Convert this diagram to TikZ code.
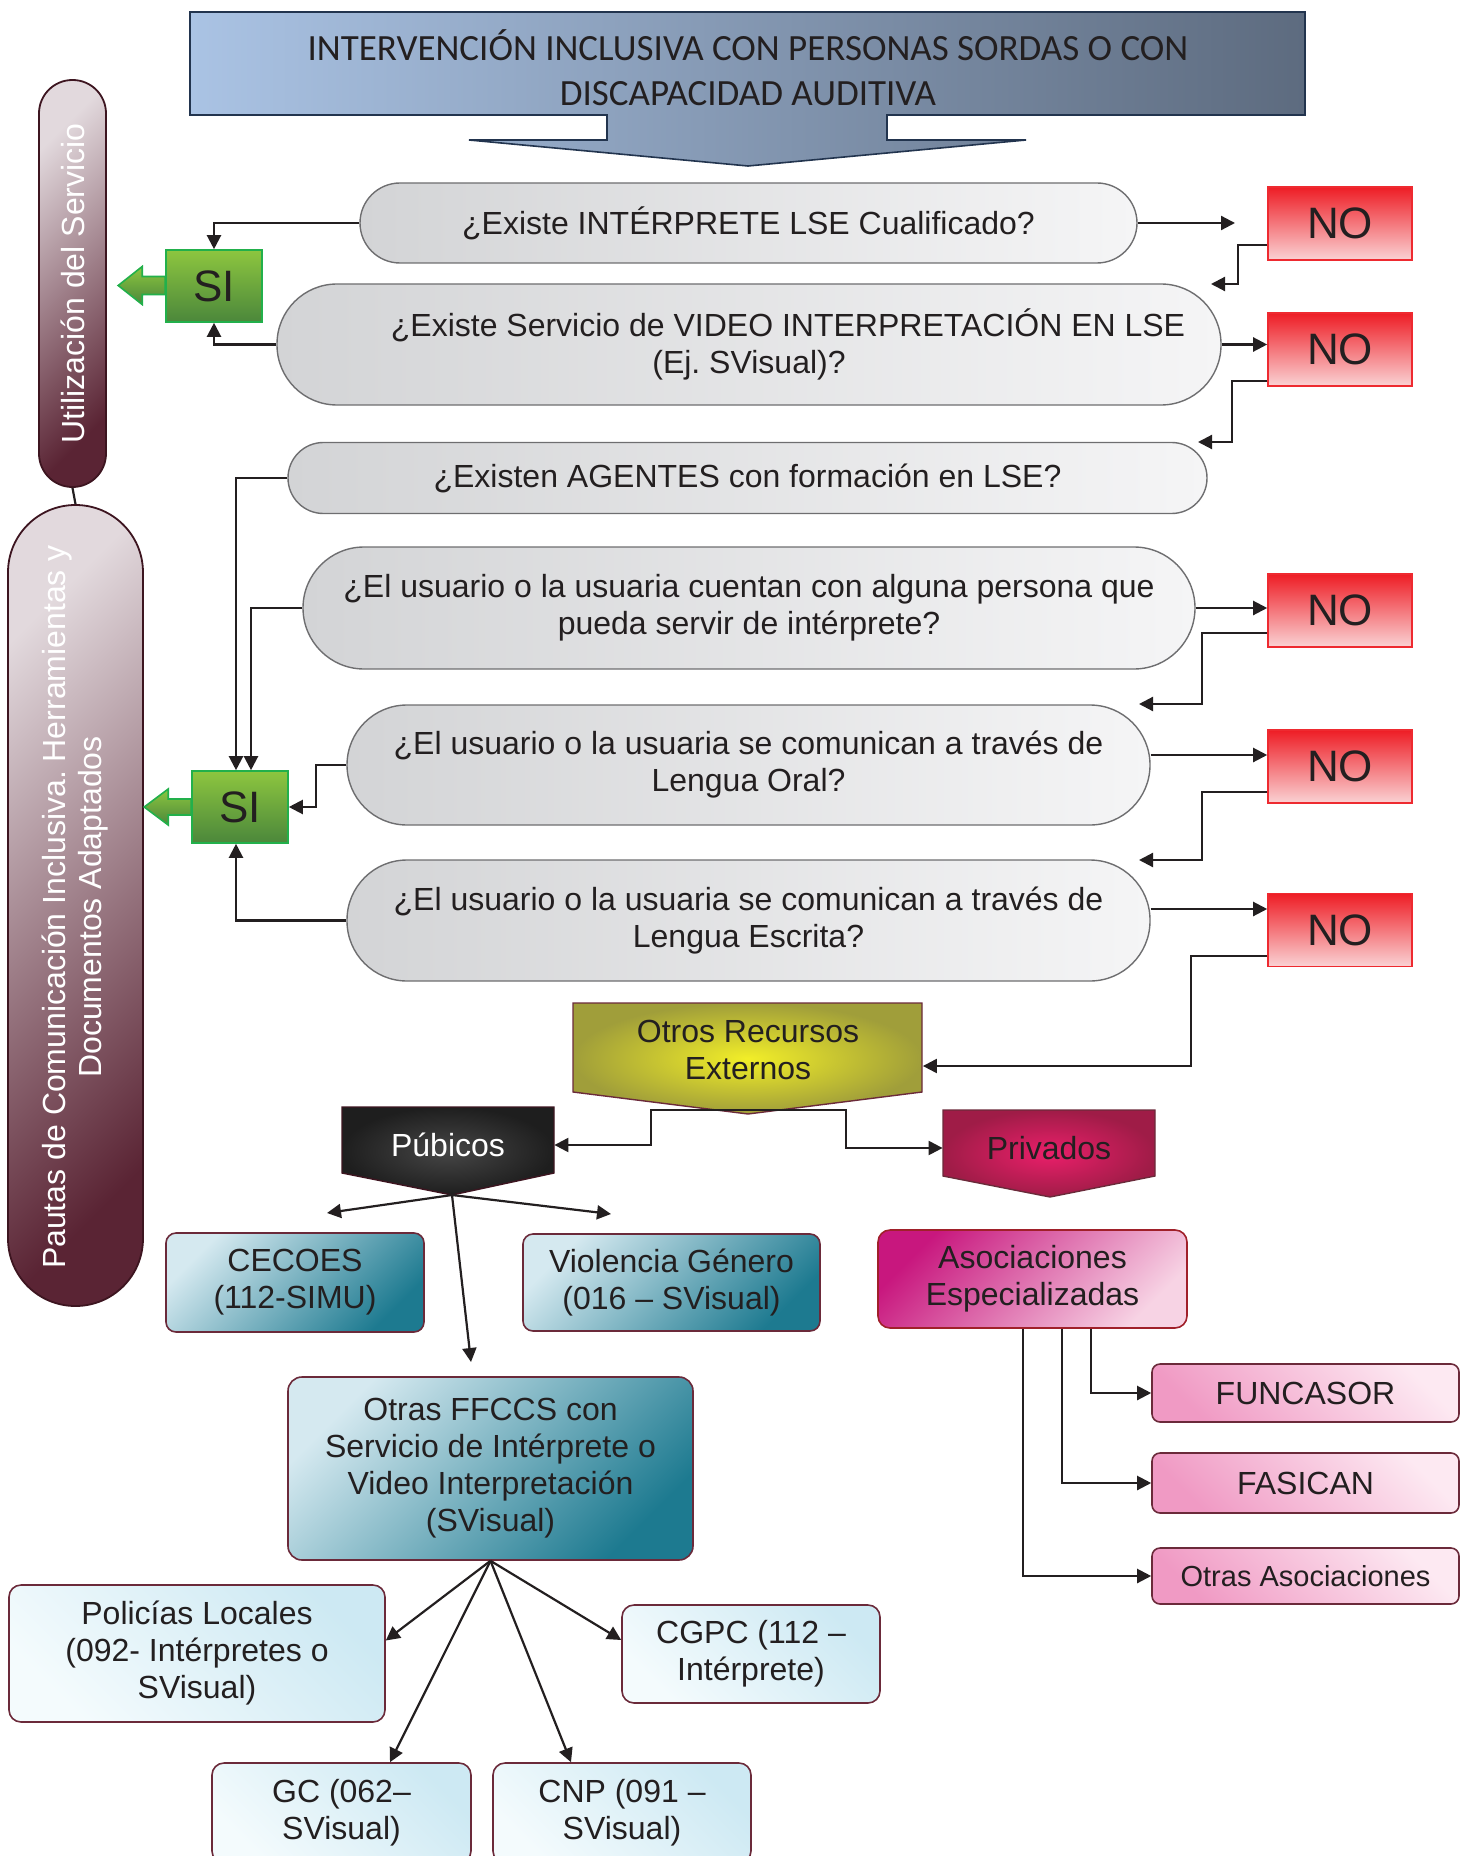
\documentclass[tikz,border=0pt]{standalone}
\usepackage{fontspec}
\setmainfont{Liberation Sans}
\newfontfamily\bannerfont{Carlito}
\usepackage{tikz}
\usetikzlibrary{arrows.meta}
\usetikzlibrary{calc}
\usepackage{xcolor}
\frenchspacing

\definecolor{ink}{HTML}{231F20}
\definecolor{qedge}{HTML}{6E6E70}
\definecolor{qleft}{HTML}{D3D4D6}
\definecolor{qright}{HTML}{F5F5F6}
\definecolor{noedge}{HTML}{EE2A30}
\definecolor{notop}{HTML}{EE1D25}
\definecolor{nobot}{HTML}{FAD2D4}
\definecolor{siedge}{HTML}{22B04B}
\definecolor{sitop}{HTML}{8DC63F}
\definecolor{sibot}{HTML}{4B873B}
\definecolor{pilllight}{HTML}{E2D9DD}
\definecolor{pilldark}{HTML}{5A2434}
\definecolor{pilledge}{HTML}{3D1520}
\definecolor{bannerleft}{HTML}{AAC3E4}
\definecolor{bannerright}{HTML}{5D6B7F}
\definecolor{banneredge}{HTML}{22344E}
\definecolor{maroon}{HTML}{6B2A3A}
\definecolor{teallight}{HTML}{D5E9F0}
\definecolor{tealdark}{HTML}{1D7A90}
\definecolor{skylight}{HTML}{F4FBFD}
\definecolor{skydark}{HTML}{CDE9F3}
\definecolor{magenta}{HTML}{C8177E}
\definecolor{pinklight}{HTML}{F7D3E4}
\definecolor{pinkdeep}{HTML}{F09AC4}
\definecolor{pinkpale}{HTML}{FDE9F2}

\begin{document}
\begin{tikzpicture}[x=0.5pt,y=-0.5pt,
  txt/.style={font=\fontsize{16}{18.5}\selectfont, text=ink, align=center},
  conn/.style={-{Triangle[length=7pt,width=7pt]}, line width=1.1pt, draw=ink},
  question/.style={txt, draw=qedge, line width=0.7pt, left color=qleft, right color=qright, inner sep=0pt},
  nobox/.style={draw=noedge, line width=0.8pt, top color=notop, bottom color=nobot,
    minimum width=72pt, minimum height=36.5pt, font=\fontsize{22}{24}\selectfont, text=ink},
  sibox/.style={draw=siedge, line width=0.8pt, top color=sitop, bottom color=sibot,
    minimum width=48pt, minimum height=36pt, font=\fontsize{22}{24}\selectfont, text=ink},
  siarrow/.style={draw=siedge, line width=0.8pt, top color=sitop, bottom color=sibot},
  pill/.style={draw=pilledge, line width=0.9pt, left color=pilllight, right color=pilldark, shading angle=45},
  pilltext/.style={font=\fontsize{16}{18}\selectfont, text=white, align=center},
  plain/.style={txt, inner sep=0pt},
  tealbox/.style={txt, draw=maroon, line width=0.8pt, left color=teallight, right color=tealdark,
    shading angle=45, rounded corners=5pt},
  skybox/.style={txt, draw=maroon, line width=0.8pt, left color=skylight, right color=skydark,
    shading angle=135, rounded corners=6pt},
  pinkbox/.style={txt, draw=maroon, line width=0.8pt, left color=pinkdeep, right color=pinkpale,
    shading angle=135, rounded corners=4pt, minimum width=153.5pt}]

  \useasboundingbox (0,0) rectangle (1472,1856);

  % Title banner
  \path[draw=banneredge, line width=0.8pt, left color=bannerleft, right color=bannerright]
    (190,12) -- (1305,12) -- (1305,115) -- (887,115) -- (887,140) -- (1026,140) -- (748,166)
    -- (469,140) -- (607,140) -- (607,115) -- (190,115) -- cycle;
  \node[text=ink, align=center, font=\bannerfont\fontsize{18.5}{22.5}\selectfont] (title) at (748,68)
    {INTERVENCIÓN INCLUSIVA CON PERSONAS SORDAS O CON\\DISCAPACIDAD AUDITIVA};

  % Side pills
  \node[pill, minimum width=33.5pt, minimum height=203.5pt, rounded corners=16.7pt] (pill1) at (72.5,283.5) {};
  \node[pill, minimum width=67.5pt, minimum height=400.5pt, rounded corners=33.7pt] (pill2) at (75.5,905.5) {};
  \draw[line width=1.1pt, draw=ink] (pill1.south) -- (pill2.north);
  \node[pilltext, rotate=90] (pill1txt) at (pill1.center) {Utilización del Servicio};
  \node[pilltext, rotate=90] (pill2txt) at (75,907)
    {Pautas de Comunicación Inclusiva. Herramientas y\\Documentos Adaptados};

  % Questions
  \node[question, minimum width=388.5pt, minimum height=40pt, rounded corners=20pt] (q1) at (748.5,223)
    {¿Existe INTÉRPRETE LSE Cualificado?};
  \node[question, minimum width=472pt, minimum height=60.5pt, rounded corners=30pt] (q2) at (749,344.5)
    {\hspace*{39pt}¿Existe Servicio de VIDEO INTERPRETACIÓN EN LSE\\(Ej. SVisual)?};
  \node[question, minimum width=459.5pt, minimum height=35.5pt, rounded corners=17.7pt] (q3) at (747.5,478)
    {¿Existen AGENTES con formación en LSE?};
  \node[question, minimum width=446pt, minimum height=61pt, rounded corners=30.5pt] (q4) at (749,608)
    {¿El usuario o la usuaria cuentan con alguna persona que\\pueda servir de intérprete?};
  \node[question, minimum width=401.5pt, minimum height=60pt, rounded corners=30pt] (q5) at (748.5,765)
    {¿El usuario o la usuaria se comunican a través de\\Lengua Oral?};
  \node[question, minimum width=401.5pt, minimum height=60.5pt, rounded corners=30pt] (q6) at (748.5,920.5)
    {¿El usuario o la usuaria se comunican a través de\\Lengua Escrita?};

  % NO boxes
  \node[nobox] (no1) at (1340,223.5) {NO};
  \node[nobox] (no2) at (1340,349.5) {NO};
  \node[nobox] (no3) at (1340,610.5) {NO};
  \node[nobox] (no4) at (1340,766.5) {NO};
  \node[nobox] (no5) at (1340,930) {NO};

  % SI boxes
  \node[sibox] (si1) at (214,286) {SI};
  \node[sibox] (si2) at (240,807) {SI};
  \path[siarrow] ([yshift=4.75pt]si1.west) -- ++(-23,0) -- ++(0,-10) -- ++(-24,19) -- ++(24,19)
    -- ++(0,-10) -- ++(23,0) -- cycle;
  \path[siarrow] ([yshift=4pt]si2.west) -- ++(-23,0) -- ++(0,-10) -- ++(-24,18) -- ++(24,18)
    -- ++(0,-10) -- ++(23,0) -- cycle;

  % Free ends of the NO returns
  \coordinate (q1out) at (1235,223);
  \coordinate (q2ne) at (1211,284);
  \coordinate (q3ne) at (1198,442);
  \coordinate (q5ne) at (1139,704);
  \coordinate (q6ne) at (1139,860);
  \path ([yshift=5pt]q5.east) coordinate (q5r);
  \path ([yshift=5.75pt]q6.east) coordinate (q6r);

  % Question -> NO
  \draw[conn] (q1.east) -- (q1out);
  \draw[conn] (q2.east) -- (q2.east -| no2.west);
  \draw[conn] (q4.east) -- (q4.east -| no3.west);
  \draw[conn] (q5r) -- (q5r -| no4.west);
  \draw[conn] (q6r) -- (q6r -| no5.west);

  % NO -> next question
  \draw[conn] ([yshift=-10.75pt]no1.west) -- ++(-29,0) |- (q2ne);
  \draw[conn] ([yshift=-15.75pt]no2.west) -- ++(-35,0) |- (q3ne);
  \draw[conn] ([yshift=-11.25pt]no3.west) -- ++(-65,0) |- (q5ne);
  \draw[conn] ([yshift=-12.75pt]no4.west) -- ++(-65,0) |- (q6ne);

  % Question -> SI
  \draw[conn] (q1.west) -| (si1.north);
  \draw[conn] (q2.west) -| (si1.south);
  \draw[conn] (q3.west) -| ([xshift=-2pt]si2.north);
  \draw[conn] (q4.west) -| ([xshift=5.5pt]si2.north);
  \draw[conn] (q5.west) -- ++(-30,0) |- (si2.east);
  \draw[conn] (q6.west) -| ([xshift=-2pt]si2.south);

  % Otros recursos externos
  \path[draw=maroon, line width=0.7pt, inner color={rgb,255:red,242;green,238;blue,40}, outer color={rgb,255:red,160;green,158;blue,58}]
    (573,1003) -- (922,1003) -- (922,1092) -- (748,1114) -- (573,1092) -- cycle;
  \node[plain, minimum width=174.5pt] (ore) at (748,1050) {Otros Recursos\\Externos};
  \draw[conn] ([yshift=-13pt]no5.west) -- ++(-76,0) |- ([yshift=-8pt]ore.east);

  % Publicos / Privados
  \path[draw=pilledge, line width=0.7pt, inner color={rgb,255:red,70;green,70;blue,70}, outer color={rgb,255:red,30;green,30;blue,30}]
    (342,1107) -- (554,1107) -- (554,1173) -- (452,1195) -- (342,1173) -- cycle;
  \node[plain, text=white, minimum width=106pt] (pub) at (448,1145) {Púbicos};
  \path[draw=maroon, line width=0.7pt, inner color={rgb,255:red,234;green,31;blue,106}, outer color={rgb,255:red,159;green,28;blue,71}]
    (943,1110) -- (1155,1110) -- (1155,1176) -- (1050,1197) -- (943,1176) -- cycle;
  \node[plain, minimum width=106pt] (priv) at (1049,1148) {Privados};
  \coordinate (oretip) at (748,1110);
  \coordinate (pubtip) at (452,1195);
  \draw[conn] (oretip) -- ++(-97,0) |- (pub.east);
  \draw[conn] (oretip) -- ++(98,0) |- (priv.west);

  % Public services
  \node[tealbox, minimum width=129pt, minimum height=49.5pt] (cecoes) at (295,1282.5) {CECOES\\(112-SIMU)};
  \node[tealbox, minimum width=148.5pt, minimum height=48.5pt] (vio) at (671.5,1282.5) {Violencia Género\\(016 – SVisual)};
  \node[tealbox, minimum width=202.5pt, minimum height=91.5pt, rounded corners=7pt] (otras) at (490.5,1468.5)
    {Otras FFCCS con\\Servicio de Intérprete o\\Video Interpretación\\(SVisual)};
  \coordinate (cecoesin) at (327,1213);
  \coordinate (vioin) at (611,1214);
  \coordinate (otrasin) at (471,1362);
  \draw[conn] (pubtip) -- (cecoesin);
  \draw[conn] (pubtip) -- (vioin);
  \draw[conn] (pubtip) -- (otrasin);

  \node[skybox, minimum width=188pt, minimum height=68.5pt] (pol) at (197,1653.5) {Policías Locales\\(092- Intérpretes o\\SVisual)};
  \node[skybox, minimum width=129pt, minimum height=49pt] (cgpc) at (751,1654) {CGPC (112 –\\Intérprete)};
  \node[skybox, minimum width=129.5pt, minimum height=50pt] (gc) at (341.5,1813) {GC (062–\\SVisual)};
  \node[skybox, minimum width=129pt, minimum height=50pt] (cnp) at (622,1813) {CNP (091 –\\SVisual)};
  \draw[conn] (otras.south) -- ([yshift=6.5pt]pol.east);
  \draw[conn] (otras.south) -- ([yshift=7pt]cgpc.west);
  \draw[conn] (otras.south) -- ([xshift=24.25pt]gc.north);
  \draw[conn] (otras.south) -- ([xshift=-25.5pt]cnp.north);

  % Private associations
  \node[txt, draw={rgb,255:red,160;green,32;blue,42}, line width=0.8pt, left color=magenta, right color=pinklight,
    shading angle=45, rounded corners=6pt, minimum width=154.5pt, minimum height=49pt] (asoc) at (1032.5,1279)
    {Asociaciones\\Especializadas};
  \node[pinkbox, minimum height=29pt] (fun) at (1305.5,1393) {FUNCASOR};
  \node[pinkbox, minimum height=30pt] (fas) at (1305.5,1483) {FASICAN};
  \node[pinkbox, minimum height=28pt, font=\fontsize{14.5}{17}\selectfont] (oasoc) at (1305.5,1576) {Otras Asociaciones};
  \draw[conn] ([xshift=29.25pt]asoc.south) |- (fun.west);
  \draw[conn] ([xshift=14.75pt]asoc.south) |- (fas.west);
  \draw[conn] ([xshift=-4.75pt]asoc.south) |- (oasoc.west);

  % Page number, cut by the page edge
  \node[text=ink, font=\fontsize{12}{14}\selectfont] (pagenum) at (1293,1866) {95};
\end{tikzpicture}
\end{document}
